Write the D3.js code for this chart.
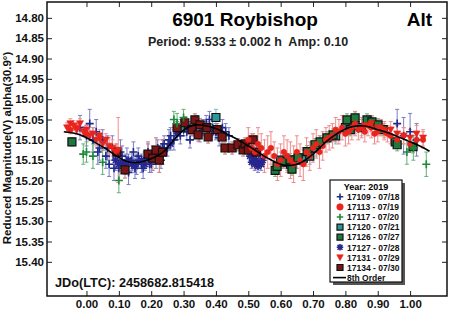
<!DOCTYPE html>
<html><head><meta charset="utf-8">
<script src="https://cdn.jsdelivr.net/npm/d3@7"></script>
<style>
html,body{margin:0;padding:0;background:#fff;}
svg{display:block;font-family:"Liberation Sans",Arial,sans-serif;}
</style></head>
<body><svg id="c" width="450" height="310"></svg>
<script>
// ---- data: [phase, reduced magnitude, error] ----
const s17109 = [[-0.02,15.07,0.03],[0.00,15.09,0.025],[0.01,15.06,0.035],[0.02,15.10,0.03],[0.03,15.08,0.03],[0.035,15.13,0.03],[0.04,15.12,0.03],[0.05,15.10,0.025],[0.06,15.14,0.03],[0.065,15.12,0.03],[0.07,15.16,0.03],[0.08,15.12,0.03],[0.085,15.17,0.03],[0.09,15.15,0.025],[0.10,15.17,0.03],[0.105,15.13,0.03],[0.11,15.14,0.025],[0.12,15.16,0.025],[0.125,15.15,0.03],[0.13,15.18,0.03],[0.14,15.15,0.02],[0.145,15.13,0.025],[0.15,15.17,0.025],[0.155,15.16,0.025],[0.16,15.14,0.02],[0.17,15.16,0.02],[0.175,15.17,0.025],[0.18,15.15,0.02],[0.19,15.13,0.02],[0.195,15.16,0.02],[0.20,15.16,0.02],[0.21,15.14,0.02],[0.215,15.15,0.02],[0.22,15.12,0.02],[0.23,15.15,0.02],[0.235,15.12,0.02],[0.24,15.11,0.02],[0.25,15.12,0.02],[0.255,15.10,0.025],[0.26,15.09,0.02],[0.27,15.10,0.025],[0.28,15.08,0.02],[0.29,15.09,0.02],[0.30,15.07,0.02],[0.31,15.08,0.02],[0.32,15.10,0.02],[0.33,15.07,0.02],[0.34,15.06,0.02],[0.35,15.085,0.02],[0.36,15.07,0.02],[0.37,15.06,0.02],[0.38,15.05,0.02],[0.39,15.07,0.02],[0.40,15.08,0.02],[0.41,15.095,0.02],[0.42,15.07,0.02],[0.43,15.08,0.02],[0.44,15.09,0.02],[0.96,15.06,0.035],[0.98,15.09,0.045],[1.00,15.08,0.045],[1.02,15.10,0.04]];
const s17113 = [[-0.05,15.075,0.01],[-0.03,15.07,0.01],[0.00,15.085,0.01],[0.04,15.095,0.012],[0.50,15.10,0.03],[0.51,15.12,0.035],[0.52,15.13,0.04],[0.53,15.11,0.04],[0.54,15.12,0.035],[0.55,15.14,0.04],[0.56,15.13,0.04],[0.57,15.12,0.04],[0.58,15.14,0.035],[0.59,15.16,0.04],[0.60,15.15,0.04],[0.61,15.13,0.04],[0.62,15.14,0.04],[0.63,15.15,0.045],[0.64,15.16,0.045],[0.65,15.13,0.04],[0.66,15.15,0.04],[0.67,15.16,0.04],[0.68,15.13,0.035],[0.69,15.14,0.035],[0.70,15.12,0.035],[0.71,15.11,0.035],[0.72,15.13,0.04],[0.73,15.115,0.035],[0.74,15.10,0.03],[0.75,15.095,0.03],[0.76,15.09,0.03],[0.77,15.075,0.03],[0.78,15.08,0.03],[0.79,15.07,0.03],[0.80,15.085,0.03],[0.81,15.08,0.03],[0.82,15.07,0.03],[0.83,15.06,0.03],[0.84,15.075,0.025],[0.85,15.07,0.025],[0.86,15.08,0.025],[0.87,15.065,0.025],[0.88,15.07,0.025],[0.89,15.085,0.025],[0.90,15.08,0.025],[0.91,15.07,0.02],[0.92,15.075,0.02],[0.93,15.085,0.02],[0.94,15.09,0.02],[0.96,15.10,0.02],[0.98,15.09,0.02],[1.00,15.11,0.02],[1.02,15.10,0.02],[1.04,15.10,0.02]];
const s17117 = [[-0.01,15.135,0.025],[0.00,15.13,0.025],[0.02,15.14,0.03],[0.05,15.155,0.03],[0.10,15.20,0.03],[0.27,15.05,0.02],[0.28,15.06,0.025],[0.30,15.045,0.02],[0.99,15.13,0.03],[1.01,15.12,0.03],[1.05,15.16,0.03]];
const s17120 = [[0.29,15.07,0.02],[0.40,15.045,0.02],[0.60,15.15,0.02],[0.62,15.155,0.02],[0.63,15.16,0.02],[0.65,15.15,0.02],[0.67,15.145,0.02],[0.69,15.14,0.02],[0.71,15.12,0.02],[0.77,15.09,0.02],[0.80,15.07,0.02],[0.83,15.065,0.02],[0.85,15.07,0.02]];
const s17126 = [[-0.045,15.105,0.01],[0.583,15.175,0.015],[0.589,15.165,0.015],[0.607,15.154,0.015],[0.629,15.149,0.015],[0.635,15.172,0.015],[0.654,15.144,0.015],[0.682,15.129,0.015],[0.706,15.112,0.015],[0.722,15.105,0.015],[0.743,15.095,0.015],[0.762,15.088,0.015],[0.805,15.051,0.015],[0.815,15.075,0.015],[0.83,15.046,0.015],[0.867,15.051,0.015],[0.882,15.056,0.015],[0.901,15.063,0.015],[0.917,15.075,0.015],[0.954,15.105,0.015],[0.96,15.112,0.015],[1.009,15.117,0.015]];
const s17127 = [[0.09,15.15,0.015],[0.10,15.16,0.015],[0.11,15.155,0.015],[0.12,15.165,0.015],[0.13,15.15,0.015],[0.14,15.16,0.015],[0.15,15.165,0.015],[0.16,15.155,0.015],[0.17,15.15,0.015],[0.18,15.16,0.015],[0.19,15.145,0.015],[0.20,15.15,0.015],[0.21,15.14,0.015],[0.22,15.135,0.015],[0.23,15.13,0.015],[0.24,15.125,0.015],[0.26,15.11,0.015],[0.28,15.085,0.015],[0.30,15.075,0.015],[0.32,15.07,0.015],[0.34,15.065,0.015],[0.36,15.07,0.015],[0.38,15.075,0.015],[0.40,15.08,0.015],[0.505,15.14,0.015],[0.51,15.155,0.015],[0.515,15.145,0.015],[0.52,15.16,0.015],[0.525,15.15,0.015],[0.53,15.165,0.015],[0.535,15.155,0.015],[0.54,15.16,0.015],[0.545,15.15,0.015]];
const s17131 = [[-0.06,15.07,0.012],[-0.05,15.06,0.012],[-0.04,15.065,0.012],[-0.03,15.075,0.012],[-0.02,15.06,0.012],[-0.01,15.08,0.012],[0.00,15.075,0.012],[0.01,15.09,0.012],[0.02,15.085,0.015],[0.03,15.10,0.015],[0.04,15.09,0.015],[0.05,15.11,0.015],[0.06,15.10,0.015],[0.07,15.115,0.02],[0.08,15.12,0.02],[0.09,15.13,0.02],[0.098,15.125,0.08],[0.86,15.065,0.02],[0.88,15.06,0.02],[0.90,15.07,0.02],[0.92,15.08,0.02],[0.94,15.075,0.02],[0.96,15.085,0.02],[0.98,15.09,0.02],[1.00,15.095,0.02],[1.02,15.085,0.02],[1.04,15.095,0.02]];
const s17134 = [[0.094,15.13,0.02],[0.119,15.174,0.02],[0.19,15.135,0.03],[0.205,15.145,0.03],[0.215,15.125,0.03],[0.225,15.15,0.03],[0.235,15.13,0.03],[0.28,15.07,0.015],[0.304,15.058,0.015],[0.326,15.075,0.015],[0.335,15.051,0.015],[0.345,15.088,0.015],[0.351,15.063,0.015],[0.372,15.07,0.015],[0.376,15.093,0.015],[0.404,15.075,0.015],[0.419,15.093,0.015],[0.428,15.12,0.015],[0.45,15.12,0.015],[0.468,15.112,0.015],[0.484,15.125,0.015],[0.49,15.11,0.015],[0.50,15.125,0.015],[0.515,15.10,0.015],[0.525,15.13,0.015]];
// 8th order Fourier fit (phase, mag)
const fitPhase = [-0.07,-0.03,0.00,0.03,0.06,0.09,0.12,0.15,0.18,0.21,0.24,0.27,0.30,0.33,0.36,0.40,0.44,0.48,0.52,0.56,0.60,0.63,0.66,0.70,0.74,0.78,0.82,0.86,0.90,0.94,0.97,1.00,1.03,1.06];
const fitMag   = [15.080,15.085,15.095,15.108,15.122,15.138,15.152,15.156,15.152,15.143,15.128,15.100,15.076,15.064,15.064,15.072,15.088,15.105,15.125,15.145,15.160,15.163,15.157,15.135,15.105,15.082,15.068,15.066,15.075,15.085,15.095,15.105,15.115,15.128];
const xTicks = [0,0.1,0.2,0.3,0.4,0.5,0.6,0.7,0.8,0.9,1.0];
const yTicks = [14.80,14.85,14.90,14.95,15.00,15.05,15.10,15.15,15.20,15.25,15.30,15.35,15.40];
const legendLabels = ["17109 - 07/18","17113 - 07/19","17117 - 07/20","17120 - 07/21","17126 - 07/27","17127 - 07/28","17131 - 07/29","17134 - 07/30"];

// ---- styles ----
const series = [
  {data:s17109, sym:"plus",  col:"#1f2a8c", err:"#7d7dc4"},
  {data:s17113, sym:"circle",col:"#e8241c", err:"#f08a8a"},
  {data:s17117, sym:"plus",  col:"#1c8a3a", err:"#5fb274"},
  {data:s17120, sym:"square",col:"#2a9898", err:"#6cc2c2"},
  {data:s17126, sym:"square",col:"#1b7a3c", err:"#6cb07e"},
  {data:s17127, sym:"aster", col:"#26268e", err:"#7c7cc6"},
  {data:s17131, sym:"tri",   col:"#e8241c", err:"#f29090"},
  {data:s17134, sym:"square",col:"#7c1414", err:"#c27a7a"}
];
const drawOrder = [0,5,3,4,7,2,1,6];

const svg = d3.select("#c");
const L=47,R=447,T=2,B=296;
const x = d3.scaleLinear().domain([-0.122,1.114]).range([L,R]);
const y = d3.scaleLinear().domain([14.761,15.484]).range([T,B]);

function symPath(sym,s){
  const h=s/2;
  if(sym==="plus") return `M${-h},0H${h}M0,${-h}V${h}`;
  if(sym==="aster"){const d=h*0.75;return `M${-h},0H${h}M0,${-h}V${h}M${-d},${-d}L${d},${d}M${-d},${d}L${d},${-d}`;}
  if(sym==="square") return `M${-h},${-h}H${h}V${h}H${-h}Z`;
  if(sym==="tri") return `M${-h},${-h*0.8}H${h}L0,${h}Z`;
  if(sym==="circle") return d3.symbol(d3.symbolCircle, Math.PI*h*h)();
}
function styleSym(sel,s){
  if(s.sym==="plus"||s.sym==="aster"){sel.attr("fill","none").attr("stroke",s.col).attr("stroke-width",1.6);}
  else if(s.sym==="square"){sel.attr("fill",s.col).attr("stroke","#111").attr("stroke-width",1.2);}
  else {sel.attr("fill",s.col).attr("stroke",s.col).attr("stroke-width",0.6);}
}
const size = {plus:8,aster:7.5,square:8,tri:7,circle:5.5};

const plot = svg.append("g");
// error bars
const eg = plot.append("g");
drawOrder.forEach(i=>{
  const s=series[i];
  eg.append("g").selectAll("path").data(s.data).join("path")
    .attr("d",d=>{const px=x(d[0]),y1=y(d[1]-d[2]),y2=y(d[1]+d[2]);
      return `M${px},${y1}V${y2}M${px-2},${y1}H${px+2}M${px-2},${y2}H${px+2}`;})
    .attr("stroke",s.err).attr("stroke-width",1).attr("fill","none");
});
// markers
drawOrder.forEach(i=>{
  const s=series[i];
  const g=plot.append("g").selectAll("path").data(s.data).join("path")
    .attr("transform",d=>`translate(${x(d[0])},${y(d[1])})`)
    .attr("d",symPath(s.sym,size[s.sym]));
  styleSym(g,s);
});
// fit line
plot.append("path").datum(fitPhase.map((p,i)=>[p,fitMag[i]]))
  .attr("d",d3.line().x(d=>x(d[0])).y(d=>y(d[1])).curve(d3.curveCatmullRom))
  .attr("fill","none").attr("stroke","#000").attr("stroke-width",1.6);

// axes (ticks inward)
const fmt=d3.format(".2f");
const ax = svg.append("g");
ax.append("g").attr("transform",`translate(0,${B})`)
  .call(d3.axisBottom(x).tickValues(xTicks).tickFormat(fmt).tickSizeInner(-5).tickSizeOuter(0).tickPadding(3.5))
  .call(g=>{g.select(".domain").remove();g.selectAll("text").attr("font-size","11.5px").attr("font-weight","bold").attr("fill","#111").attr("font-family","Liberation Sans, Arial, sans-serif");});
ax.append("g").attr("transform",`translate(0,${T})`)
  .call(d3.axisTop(x).tickValues(xTicks).tickFormat("").tickSizeInner(-5).tickSizeOuter(0))
  .call(g=>g.select(".domain").remove());
ax.append("g").attr("transform",`translate(${L},0)`)
  .call(d3.axisLeft(y).tickValues(yTicks).tickFormat(fmt).tickSizeInner(-5).tickSizeOuter(0).tickPadding(3))
  .call(g=>{g.select(".domain").remove();g.selectAll("text").attr("font-size","11.5px").attr("font-weight","bold").attr("fill","#111").attr("font-family","Liberation Sans, Arial, sans-serif");});
ax.append("g").attr("transform",`translate(${R},0)`)
  .call(d3.axisRight(y).tickValues(yTicks).tickFormat("").tickSizeInner(-5).tickSizeOuter(0))
  .call(g=>g.select(".domain").remove());
svg.selectAll(".tick line").attr("stroke","#222");
// frame
svg.append("rect").attr("x",L).attr("y",T).attr("width",R-L).attr("height",B-T)
  .attr("fill","none").attr("stroke","#111").attr("stroke-width",1.5);

// texts
svg.append("text").attr("x",245).attr("y",26).attr("text-anchor","middle")
  .attr("font-size","19px").attr("font-weight","bold").text("6901 Roybishop");
svg.append("text").attr("x",432).attr("y",26).attr("text-anchor","end")
  .attr("font-size","19px").attr("font-weight","bold").text("Alt");
svg.append("text").attr("x",248).attr("y",46).attr("text-anchor","middle").style("white-space","pre")
  .attr("font-size","12.5px").attr("font-weight","bold").attr("fill","#222").text("Period: 9.533 \u00b1 0.002 h  Amp: 0.10");
svg.append("text").attr("x",55).attr("y",287)
  .attr("font-size","12.7px").attr("font-weight","bold").attr("fill","#111").text("JDo(LTC): 2458682.815418");
svg.append("text").attr("transform","translate(11,148) rotate(-90)").attr("text-anchor","middle")
  .attr("font-size","11.5px").attr("font-weight","bold").attr("fill","#111").text("Reduced Magnitude(V) alpha(30.9\u00b0)");

// legend
const lg = svg.append("g");
const lx=330, ly=180, lw=72, lh=102;
lg.append("rect").attr("x",lx+3).attr("y",ly+3).attr("width",lw).attr("height",lh).attr("fill","#555");
lg.append("rect").attr("x",lx).attr("y",ly).attr("width",lw).attr("height",lh).attr("fill","#fff").attr("stroke","#111").attr("stroke-width",1.2);
lg.append("text").attr("x",lx+lw/2).attr("y",ly+9.5).attr("text-anchor","middle")
  .attr("font-size","9px").attr("font-weight","bold").text("Year: 2019");
legendLabels.forEach((lab,i)=>{
  const cy = ly+16.8+i*10.1;
  const s=series[i];
  const m=lg.append("path").attr("transform",`translate(${lx+10},${cy})`)
    .attr("d",symPath(s.sym,s.sym==="square"?6:6.5));
  styleSym(m,s);
  lg.append("text").attr("x",lx+17).attr("y",cy+3.2).attr("font-size","8.5px").attr("font-weight","bold").attr("fill","#111").text(lab);
});
const fy = ly+16.8+8*10.1;
lg.append("line").attr("x1",lx+3).attr("x2",lx+16).attr("y1",fy).attr("y2",fy).attr("stroke","#000").attr("stroke-width",1.6);
lg.append("text").attr("x",lx+17).attr("y",fy+3.2).attr("font-size","8.5px").attr("font-weight","bold").attr("fill","#111").text("8th Order");
</script></body></html>
